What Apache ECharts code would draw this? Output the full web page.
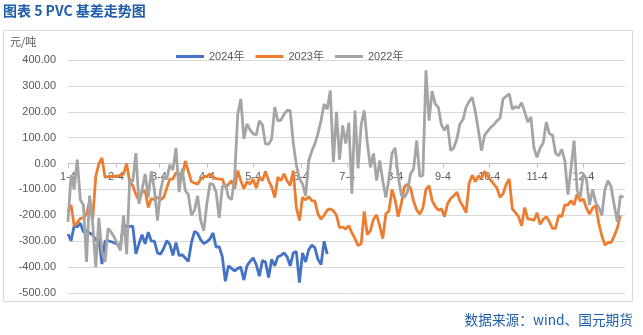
<!DOCTYPE html>
<html>
<head>
<meta charset="utf-8">
<script src="https://cdn.jsdelivr.net/npm/echarts@6/dist/echarts.min.js"></script>
<style>
html,body{margin:0;padding:0;background:#fff;}
#chart{width:643px;height:335px;}
</style>
</head>
<body>
<div id="chart"></div>
<script>
// Calendar categories (Jan 4 .. Dec 31)
const monthDays = [31,28,31,30,31,30,31,31,30,31,30,31];
const categories = [];
for (let m = 1; m <= 12; m++) {
  for (let d = 1; d <= monthDays[m - 1]; d++) {
    if (m === 1 && d < 4) continue;
    categories.push(m + '-' + d);
  }
}
// Series values, one reading every 2 calendar days starting 1-4
const seriesNames = ['2024年', '2023年', '2022年'];
const v2024 = [-272,-298,-240,-245,-230,-265,-260,-268,-275,-295,
 -289,-388,-300,-298,-302,-306,-312,-320,-233,-245,
 -243,-242,-349,-310,-275,-310,-265,-300,-300,-345,
 -350,-328,-298,-312,-355,-305,-356,-352,-365,-378,
 -305,-262,-270,-295,-309,-302,-291,-268,-323,-321,
 -360,-455,-395,-405,-415,-405,-400,-450,-395,-378,
 -364,-390,-435,-375,-380,-440,-370,-395,-360,-355,
 -345,-360,-395,-345,-340,-460,-345,-380,-333,-315,
 -325,-370,-390,-300,-350];
const v2023 = [-185,-160,-240,-228,-212,-210,-195,-145,-215,-50,
 0,22,-53,-50,-50,-50,-48,-46,-40,0,
 -72,-85,-120,-143,-110,-104,-170,-135,-140,-130,
 -140,-131,-95,-60,-60,-35,-40,-50,10,-30,
 -70,-75,-80,-60,-50,-50,-40,-53,-58,-60,
 -60,-92,-80,-66,-97,-27,-66,-97,-70,-79,
 -60,-95,-53,-66,-30,-66,-90,-131,-53,-66,
 -40,-66,-85,-27,-170,-220,-131,-140,-128,-143,
 -145,-195,-215,-200,-180,-175,-182,-200,-248,-245,
 -253,-240,-268,-290,-317,-310,-185,-275,-259,-215,
 -198,-240,-290,-195,-183,-100,-140,-205,-155,-90,
 -80,-95,-145,-180,-195,-172,-100,-85,-143,-165,
 -180,-175,-205,-155,-135,-125,-110,-145,-165,-190,
 -75,-45,-70,-48,-55,-30,-50,-64,-79,-95,
 -130,-117,-80,-60,-175,-190,-205,-240,-170,-215,
 -215,-220,-190,-235,-215,-205,-225,-250,-250,-200,
 -205,-160,-160,-143,-160,-117,-145,-137,-172,-195,
 -172,-162,-230,-280,-315,-305,-305,-280,-250,-200];
const v2022 = [-225,-45,-100,15,-140,-160,-380,-124,-230,-400,
 -210,-340,-380,-250,-265,-285,-310,-335,-200,-350,
 -60,-70,40,-155,-100,-40,-130,-30,-100,-220,
 -104,-50,-60,-5,-25,60,-110,-20,-104,-120,
 -200,-180,-125,-220,-260,-155,-78,-80,-110,-210,
 -90,-79,-130,-140,-55,190,250,95,153,130,
 115,110,165,150,75,75,95,218,165,168,
 190,205,205,80,-5,-60,-78,-125,10,48,
 76,115,166,230,210,282,5,200,15,147,
 77,158,-116,205,-19,150,205,80,-15,39,
 -66,12,-66,-131,-60,40,60,-50,-120,-131,
 -110,-40,-20,89,-50,-46,360,166,280,230,
 218,150,128,150,50,60,95,153,170,218,
 240,256,200,128,50,110,125,140,150,165,
 175,250,260,269,210,220,215,235,200,160,
 180,60,24,60,80,160,115,110,40,30,
 55,10,-120,-20,89,-104,-130,-40,-60,-160,
 -100,-150,-170,-200,-100,-66,-90,-160,-225,-125,
 -130];
const STEP = 2;
const yMin = -500, yMax = 400, yInterval = 100;

function toPairs(vals) {
  return vals.map((y, i) => [categories[i * STEP], y]);
}
const isMonthTick = (idx, val) => String(val).split('-')[1] === '4';

const GRID = {left: 68, right: 18, top: 60, bottom: 42};
const plotH = 335 - GRID.top - GRID.bottom;
// axis crosses the value axis at 0
const zeroOffset = -plotH * (0 - yMin) / (yMax - yMin);

const chart = echarts.init(document.getElementById('chart'), null, {renderer: 'canvas'});
const FONT = "'Liberation Sans','Noto Sans CJK SC',sans-serif";
const colors = ['#4472C4', '#ED7D31', '#A5A5A5'];
chart.setOption({
  animation: false,
  backgroundColor: '#ffffff',
  color: colors,
  textStyle: {fontFamily: FONT},
  grid: Object.assign({containLabel: false}, GRID),
  legend: {
    data: seriesNames,
    left: 171,
    top: 46,
    icon: 'rect',
    itemWidth: 28,
    itemHeight: 3,
    itemGap: 11,
    textStyle: {color: '#595959', fontSize: 11, fontFamily: FONT}
  },
  xAxis: {
    type: 'category',
    data: categories,
    boundaryGap: false,
    offset: zeroOffset,
    z: 0,
    axisLine: {onZero: false, lineStyle: {color: '#bfbfbf', width: 1}},
    axisTick: {show: true, interval: isMonthTick, length: 4, lineStyle: {color: '#bfbfbf'}},
    axisLabel: {interval: isMonthTick, color: '#595959', fontSize: 11, margin: 8, fontFamily: FONT},
    splitLine: {show: false}
  },
  yAxis: {
    type: 'value',
    min: yMin,
    max: yMax,
    interval: yInterval,
    z: 0,
    axisLine: {show: false},
    axisTick: {show: false},
    axisLabel: {formatter: v => v.toFixed(2), color: '#595959', fontSize: 11, margin: 12, fontFamily: FONT},
    splitLine: {lineStyle: {color: '#d9d9d9', width: 1}}
  },
  series: [v2024, v2023, v2022].map((vals, k) => ({
    name: seriesNames[k],
    type: 'line',
    z: 5,
    data: toPairs(vals),
    showSymbol: false,
    symbol: 'none',
    lineStyle: {width: 2.8, color: colors[k]},
    itemStyle: {color: colors[k]}
  })),
  graphic: [
    {type: 'rect', shape: {x: 3.5, y: 30.5, width: 629, height: 271}, style: {fill: 'none', stroke: '#d9d9d9', lineWidth: 1}, silent: true, z: -1},
    {type: 'text', left: 3, top: 4, style: {text: '图表 5 PVC 基差走势图', font: "bold 14px 'Noto Sans CJK SC'", fill: '#1f5ea8'}},
    {type: 'text', left: 10, top: 36, style: {text: '元/吨', font: "11px 'Noto Sans CJK SC'", fill: '#595959'}},
    {type: 'text', right: 10, top: 313, style: {text: '数据来源：wind、国元期货', font: "13.7px 'Noto Sans CJK SC'", fill: '#1f5ea8'}}
  ]
});
</script>
</body>
</html>
